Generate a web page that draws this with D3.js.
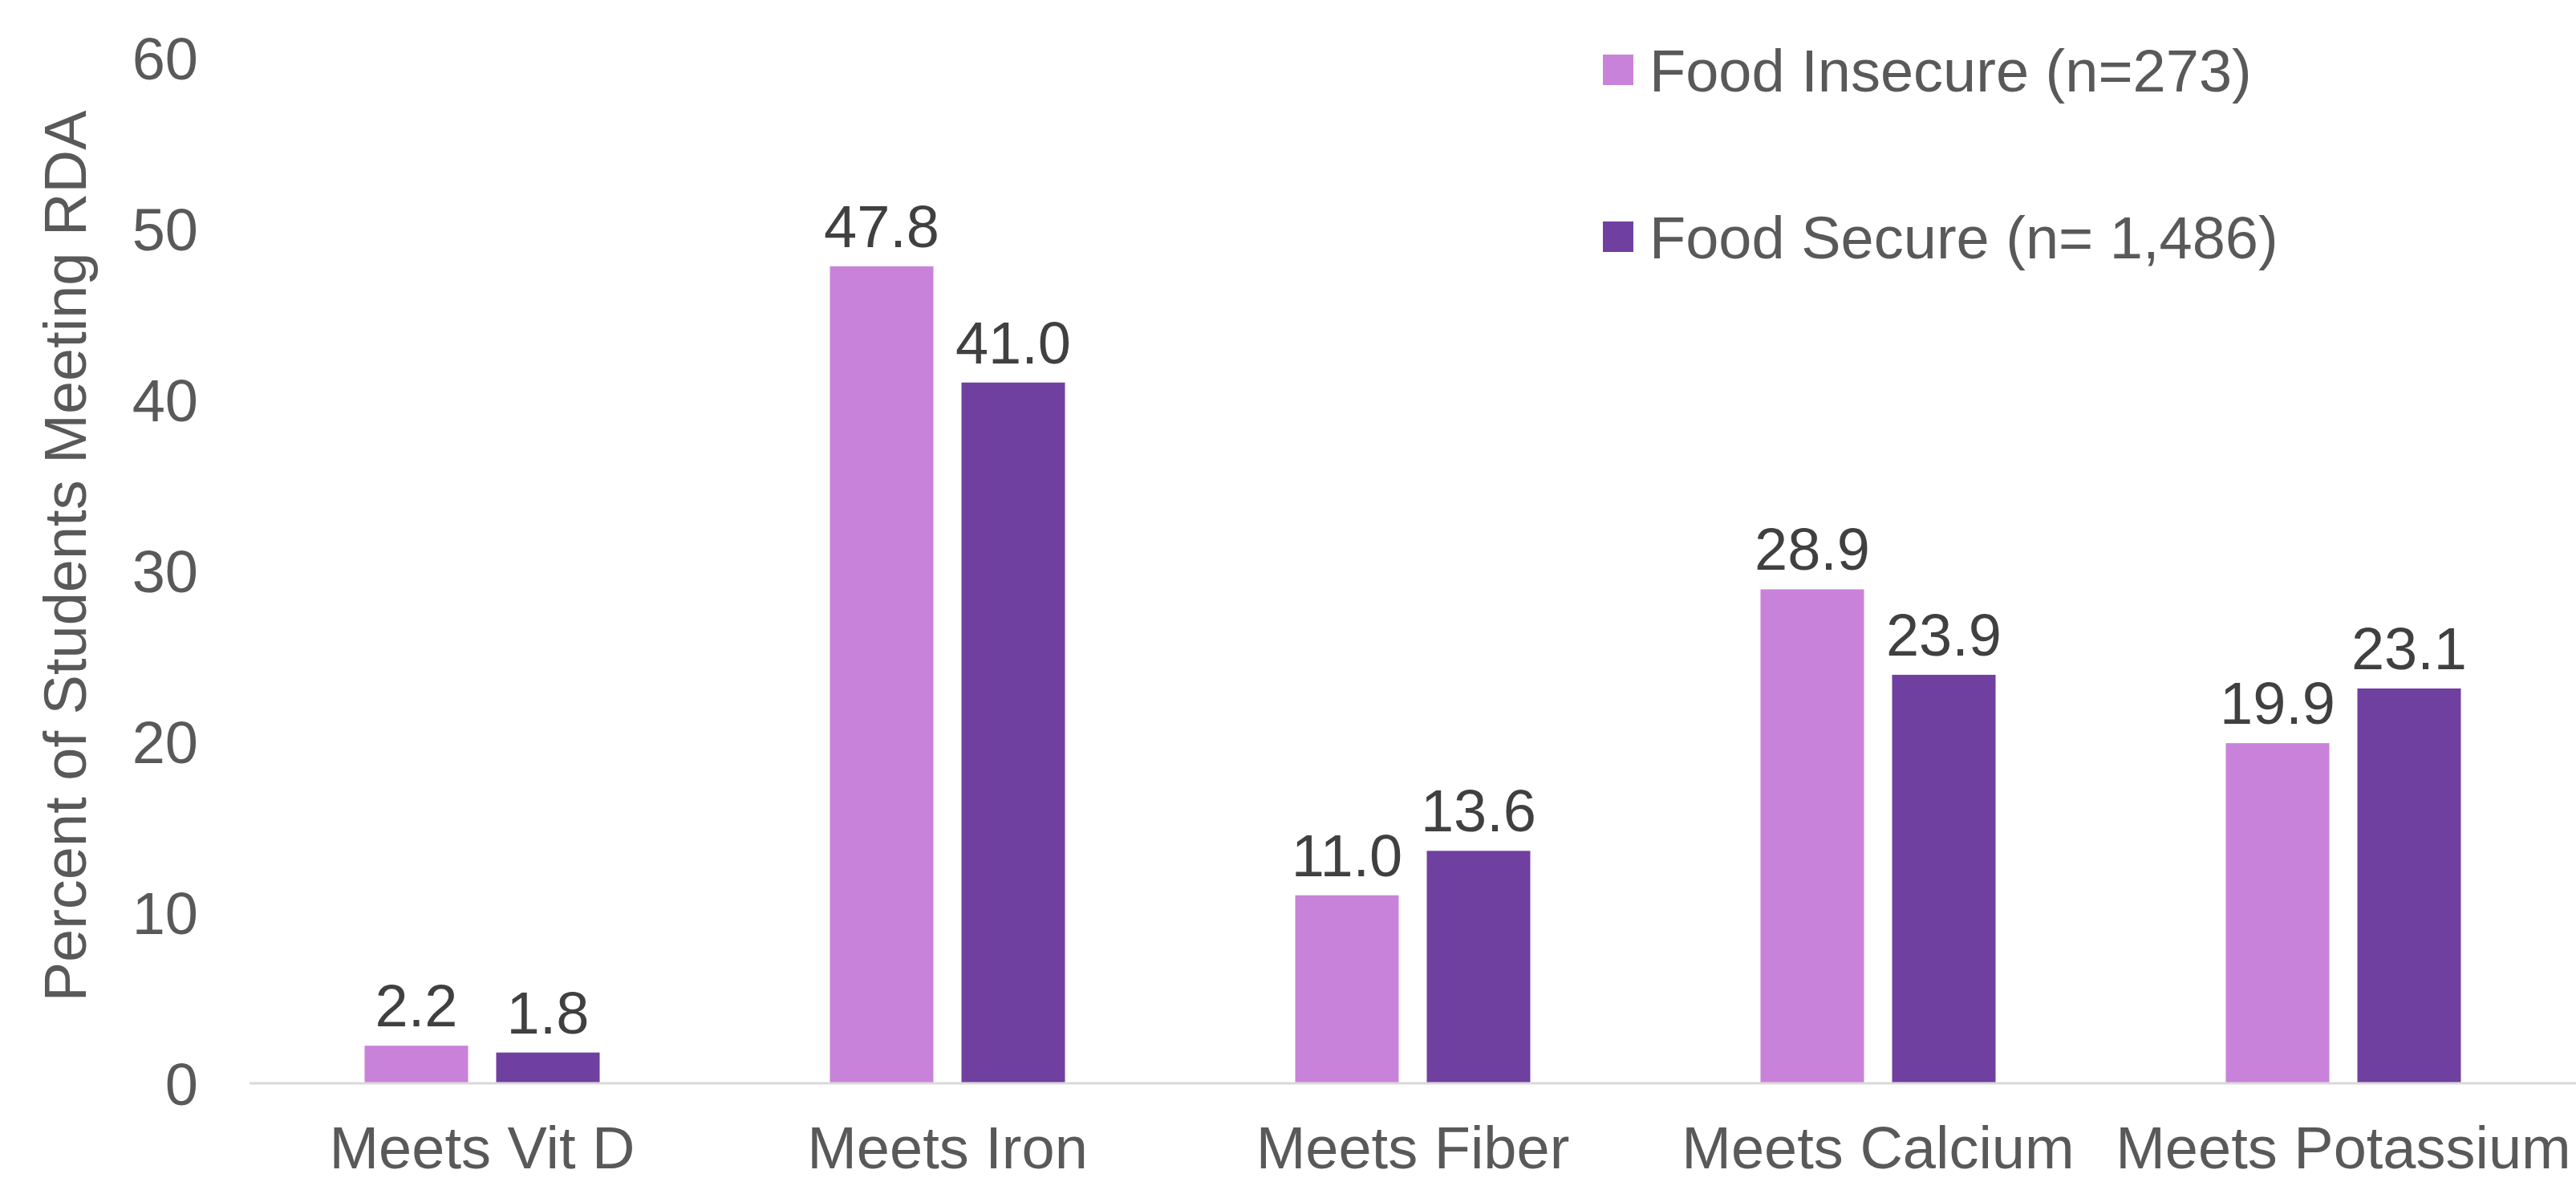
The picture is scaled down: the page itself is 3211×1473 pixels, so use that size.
<!DOCTYPE html>
<html lang="en">
<head>
    <meta charset="UTF-8">
    <title>Percent of Students Meeting RDA</title>
    <script src="https://d3js.org/d3.v7.min.js"></script>
    <style>
        body {
            margin: 0;
            background: white;
            overflow: hidden;
        }
        text {
            font-family: "Liberation Sans", Arial, sans-serif;
        }
    </style>
</head>
<body>
    <div id="chart"></div>

    <script>
        const categories = ["Meets Vit D", "Meets Iron", "Meets Fiber", "Meets Calcium", "Meets Potassium"];
        const seriesNames = ["Food Insecure (n=273)", "Food Secure (n= 1,486)"];
        const insecure = [2.2, 47.8, 11.0, 28.9, 19.9];
        const secure = [1.8, 41.0, 13.6, 23.9, 23.1];
        const yTicks = [0, 10, 20, 30, 40, 50, 60];

        const colors = ["#c982d9", "#7040a0"];

        const width = 3211,
              height = 1473;

        const plot = { left: 311, right: 3211, top: 72, bottom: 1350 };

        const svg = d3.select("#chart")
                      .append("svg")
                      .attr("width", width)
                      .attr("height", height);

        const rows = categories.map((c, i) => ({
            category: c,
            values: [insecure[i], secure[i]]
        }));

        const x0 = d3.scaleBand()
                     .domain(categories)
                     .range([plot.left, plot.right]);

        const x1 = d3.scaleBand()
                     .domain([0, 1])
                     .range([143.5, 436.5])
                     .paddingInner(0.2134);

        const y = d3.scaleLinear()
                    .domain([0, 60])
                    .range([plot.bottom, plot.top]);

        // y tick labels (no axis line, no gridlines)
        svg.append("g")
           .selectAll("text")
           .data(yTicks)
           .enter()
           .append("text")
           .attr("x", 247)
           .attr("y", d => y(d))
           .attr("dy", "0.36em")
           .attr("text-anchor", "end")
           .attr("fill", "#595959")
           .style("font-size", "74px")
           .text(d => d);

        // y axis title
        svg.append("text")
           .attr("transform", `translate(107, ${(plot.top + plot.bottom) / 2 - 18}) rotate(-90)`)
           .attr("text-anchor", "middle")
           .attr("fill", "#595959")
           .style("font-size", "74px")
           .text("Percent of Students Meeting RDA");

        // bars
        const groups = svg.append("g")
                          .selectAll("g")
                          .data(rows)
                          .enter()
                          .append("g")
                          .attr("transform", d => `translate(${x0(d.category)},0)`);

        groups.selectAll("rect")
              .data(d => d.values.map((v, i) => ({ v, i })))
              .enter()
              .append("rect")
              .attr("x", d => x1(d.i))
              .attr("width", x1.bandwidth())
              .attr("y", d => y(d.v))
              .attr("height", d => y(0) - y(d.v))
              .attr("fill", d => colors[d.i]);

        groups.selectAll("text")
              .data(d => d.values.map((v, i) => ({ v, i })))
              .enter()
              .append("text")
              .attr("x", d => x1(d.i) + x1.bandwidth() / 2)
              .attr("y", d => y(d.v) - 24)
              .attr("text-anchor", "middle")
              .attr("fill", "#404040")
              .style("font-size", "74px")
              .text(d => d.v.toFixed(1));

        // baseline
        svg.append("line")
           .attr("x1", plot.left)
           .attr("x2", plot.right)
           .attr("y1", y(0))
           .attr("y2", y(0))
           .attr("stroke", "#d9d9d9")
           .attr("stroke-width", 3);

        // category labels
        svg.append("g")
           .selectAll("text")
           .data(categories)
           .enter()
           .append("text")
           .attr("x", d => x0(d) + x0.bandwidth() / 2)
           .attr("y", 1456)
           .attr("text-anchor", "middle")
           .attr("fill", "#595959")
           .style("font-size", "74px")
           .text(d => d);

        // legend
        const legend = svg.append("g")
                          .selectAll("g")
                          .data(seriesNames)
                          .enter()
                          .append("g")
                          .attr("transform", (d, i) => `translate(1998, ${87 + i * 208})`);

        legend.append("rect")
              .attr("x", 0)
              .attr("y", -19)
              .attr("width", 38)
              .attr("height", 38)
              .attr("fill", (d, i) => colors[i]);

        legend.append("text")
              .attr("x", 58)
              .attr("y", 0)
              .attr("dy", "0.36em")
              .attr("fill", "#595959")
              .style("font-size", "74px")
              .text(d => d);
    </script>
</body>
</html>
